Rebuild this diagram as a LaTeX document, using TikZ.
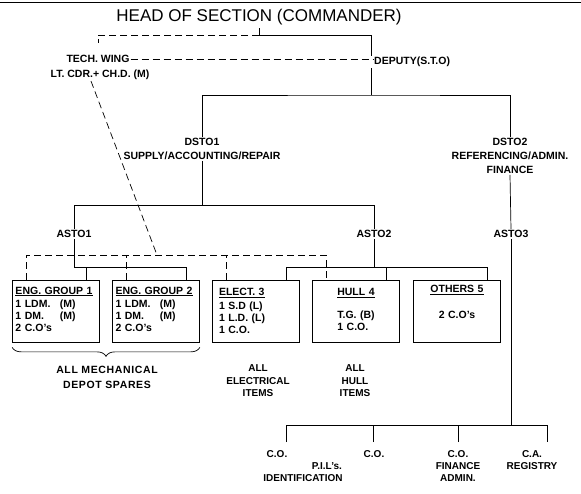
\documentclass[tikz,border=0pt]{standalone}
\usepackage{fontspec}
\setmainfont{Liberation Sans}
\usetikzlibrary{positioning,decorations.pathreplacing}

\begin{document}
\begin{tikzpicture}[x=1pt,y=-1pt,
  lbl/.style={font=\fontsize{10.5}{14}\selectfont\bfseries, inner sep=1pt, align=center},
  small/.style={font=\fontsize{10}{12}\selectfont\bfseries, inner sep=1pt, align=center},
  unit/.style={draw, line width=0.7pt, minimum width=87, minimum height=62, inner xsep=3pt, inner ysep=3pt, text width=81, align=left, font=\fontsize{10.5}{12}\selectfont\bfseries},
  conn/.style={line width=0.7pt},
  twline/.style={line width=0.7pt, dash pattern=on 7pt off 4pt}]

\useasboundingbox (0,0) rectangle (581,493);
\draw[conn] (0,2) -- (581,2);

\node[font=\fontsize{17}{20}\selectfont](head) at (259,17) {HEAD OF SECTION (COMMANDER)};
\node[lbl](tech) at (98,59) {TECH. WING};
\node[lbl](ltcdr) at (100,75) {LT. CDR.+ CH.D. (M)};
\node[lbl, anchor=west](deputy) at (373,62) {DEPUTY(S.T.O)};
\node[lbl](dsto1) at (202,149) {DSTO1\\SUPPLY/ACCOUNTING/REPAIR};
\node[lbl](dsto2) at (510,156) {DSTO2\\REFERENCING/ADMIN.\\FINANCE};
\node[lbl](asto1) at (74,234) {ASTO1};
\node[lbl](asto2) at (374,234) {ASTO2};
\node[lbl](asto3) at (511,234) {ASTO3};

\node[unit](eng1) at (56,311) {\underline{ENG. GROUP 1}\\[2pt]
  \begin{tabular}{@{}l@{\hspace{8pt}}l@{}}1 LDM. & (M)\\ 1 DM. & (M)\\ 2 C.O's & \end{tabular}};
\node[unit](eng2) at (156,311) {\underline{ENG. GROUP 2}\\[2pt]
  \begin{tabular}{@{}l@{\hspace{8pt}}l@{}}1 LDM. & (M)\\ 1 DM. & (M)\\ 2 C.O's & \end{tabular}};
\node[unit](elect3) at (256,311) {\ \underline{ELECT. 3}\\[2pt]\ 1 S.D (L)\\\ 1 L.D. (L)\\\ 1 C.O.};
\node[unit, align=center](hull4) at (356,311) {\underline{HULL 4}\\[11pt]
  \begin{tabular}{@{}l@{}}T.G. (B)\\ 1 C.O.\end{tabular}};
\node[unit, align=center](others5) at (457,311) {\underline{OTHERS 5}\\[14pt]2 C.O's\\[6pt]\mbox{}};

\node[lbl, font=\fontsize{10.5}{15}\selectfont\bfseries\addfontfeature{LetterSpace=6}](mech) at (107,377) {ALL MECHANICAL\\DEPOT SPARES};
\node[small, font=\fontsize{10}{12.5}\selectfont\bfseries](elec) at (258,381) {ALL\\ELECTRICAL\\ITEMS};
\node[small, font=\fontsize{10}{12.5}\selectfont\bfseries](hullit) at (355,381) {ALL\\HULL\\ITEMS};

\node[small](co1) at (277,454) {C.O.};
\node[small](pil) at (327,466) {P.I.L's.};
\node[small](ident) at (303,478) {IDENTIFICATION};
\node[small](co2) at (374,454) {C.O.};
\node[small](co3) at (458,466) {C.O.\\FINANCE\\ADMIN.};
\node[small](ca) at (532,460) {C.A.\\REGISTRY};

\coordinate (hline) at (0,35);
\coordinate (dv) at (371,0);
\coordinate (twtop) at (98,43);
\coordinate (djn) at (371,95);
\coordinate (abus) at (0,205);
\coordinate (tbus) at (0,255);
\coordinate (sbus) at (0,267);
\coordinate (twdiag) at (157,255);
\coordinate (cbus) at (0,425);
\coordinate (p1) at (286,442);
\coordinate (p2) at (373,442);
\coordinate (p3) at (458,442);
\coordinate (p4) at (547,442);

\foreach \b in {eng1,eng2,elect3,hull4,others5}{
  \coordinate (\b-l) at ([xshift=-30]\b.north);
  \coordinate (\b-r) at ([xshift=30]\b.north);
}

\draw[conn] (head.south) -- (head.south |- hline) -| (dv |- deputy.north);
\draw[twline] (head.south |- hline) -| (twtop);
\draw[twline] (tech.east) -- (tech.east -| deputy.west);
\draw[conn] (dv |- deputy.south) -- (djn);
\draw[conn] (dsto1.north) |- (djn) -| (dsto2.north);

\draw[conn] (dsto1.south) -- (dsto1.south |- abus);
\draw[conn] (asto1.north) |- (asto2.north |- abus) -- (asto2.north);
\draw[conn] (dsto2.south) -- (asto3.north);

\draw[conn] (asto1.south) |- (eng2-r |- sbus) -- (eng2-r);
\draw[conn] (eng1-r) -- (eng1-r |- sbus);
\draw[conn] (asto2.south) -- (asto2.south |- sbus);
\draw[conn] (elect3-r) |- (others5-r |- sbus) -- (others5-r);
\draw[conn] (hull4-r) -- (hull4-r |- sbus);

\draw[twline] (eng1-l) |- (hull4-l |- tbus) -- (hull4-l);
\foreach \b in {eng2,elect3}
  \draw[twline] (\b-l) -- (\b-l |- tbus);
\draw[twline] ([xshift=-9]ltcdr.south) -- (twdiag);

\draw[conn, decorate, decoration={brace, mirror, amplitude=9}] ([yshift=-5]eng1.south west) -- ([yshift=-5]eng2.south east);

\draw[conn] (asto3.south) -- (asto3.south |- cbus);
\draw[conn] (p1) |- (p4 |- cbus) -- (p4);
\foreach \p in {p2,p3}
  \draw[conn] (\p) -- (\p |- cbus);

\end{tikzpicture}
\end{document}
